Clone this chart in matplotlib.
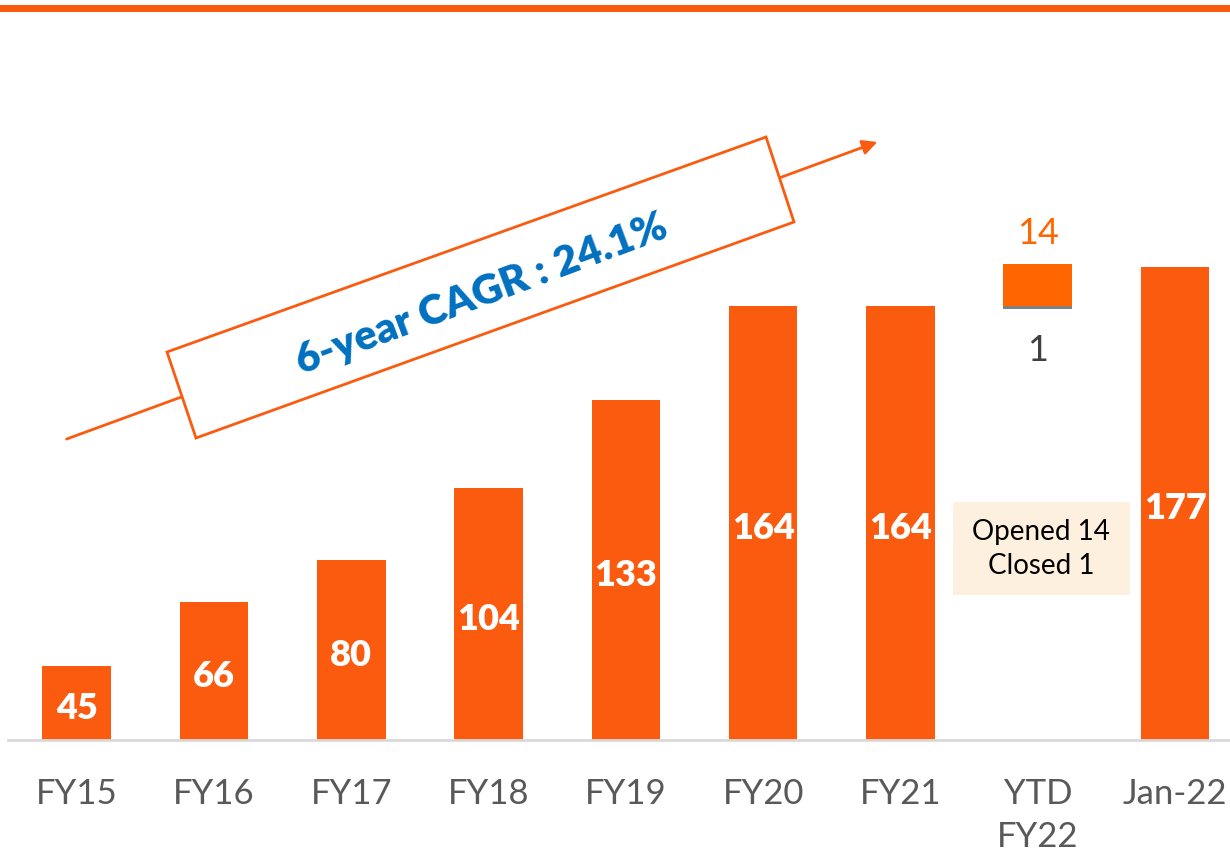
import matplotlib.pyplot as plt
from matplotlib.patches import Polygon, Rectangle

# data
categories = ['FY15', 'FY16', 'FY17', 'FY18', 'FY19', 'FY20', 'FY21', 'YTD\nFY22', 'Jan-22']
store_counts = [45, 66, 80, 104, 133, 164, 164, None, 177]
ytd_base = 164
ytd_opened = 14
ytd_closed = 1
cagr_text = '6-year CAGR : 24.1%'
note_text = 'Opened 14\nClosed 1'

ORANGE = '#FA5B0F'
ORANGE2 = '#FF6600'
BLUE = '#0070C0'
plt.rcParams['font.family'] = ['Lato', 'DejaVu Sans']

fig = plt.figure(figsize=(12.3, 8.58), dpi=100)
y_min, y_max = 20.5, 251
ax = fig.add_axes([8 / 1230, 1 - 740 / 858, 1 - 8 / 1230, 697 / 858])

# regular bars
xs = [i for i, v in enumerate(store_counts) if v is not None]
vals = [v for v in store_counts if v is not None]
ax.bar(xs, vals, width=0.5, color=ORANGE, zorder=2)
for x, v in zip(xs, vals):
    ax.text(x, (y_min + v) / 2 - 1.8, str(v), ha='center', va='center',
            color='white', fontsize=26, fontweight='heavy', zorder=3)

# YTD waterfall piece
ytd_x = categories.index('YTD\nFY22')
ax.bar(ytd_x, ytd_opened, bottom=ytd_base, width=0.5, color=ORANGE2, zorder=2)
ax.bar(ytd_x, ytd_closed, bottom=ytd_base - ytd_closed, width=0.5, color='#808080', zorder=2)
ax.text(ytd_x, ytd_base + ytd_opened + 10, str(ytd_opened), ha='center', va='center',
        color=ORANGE2, fontsize=26)
ax.text(ytd_x, ytd_base - 14.6, str(ytd_closed), ha='center', va='center',
        color='#404040', fontsize=26)

ax.set_xlim(-0.5, 8.4)
ax.set_ylim(y_min, y_max)
ax.set_xticks(range(len(categories)))
ax.set_xticklabels(categories, fontsize=25, color='#595959', linespacing=1.45)
ax.tick_params(axis='x', length=0, pad=27)
ax.set_yticks([])
for s in ['top', 'right', 'left']:
    ax.spines[s].set_visible(False)
ax.spines['bottom'].set_color('#D9D9D9')
ax.spines['bottom'].set_linewidth(2)

# overlay in pixel coordinates for decorations
ov = fig.add_axes([0, 0, 1, 1], facecolor='none')
ov.set_xlim(0, 1230)
ov.set_ylim(858, 0)
ov.axis('off')

ov.add_patch(Rectangle((0, 5), 1230, 7, color=ORANGE, lw=0))

ov.annotate('', xy=(880, 141), xytext=(64, 440),
            arrowprops=dict(arrowstyle='-|>', color=ORANGE, lw=2, mutation_scale=22))
ov.add_patch(Polygon([(167, 352), (766, 137), (794, 222), (196, 438)], closed=True,
                     facecolor='white', edgecolor=ORANGE, lw=2, zorder=3))
ov.text(482, 294, cagr_text, rotation=20.5, rotation_mode='anchor', ha='center', va='center',
        color=BLUE, fontsize=30, fontweight='heavy', zorder=4)

ov.add_patch(Rectangle((953, 502), 177, 93, facecolor='#FDF0DE', lw=0, zorder=3))
ov.text(1041, 549, note_text, ha='center', va='center', fontsize=20, color='black',
        linespacing=1.35, zorder=4)

fig.savefig('out.png', dpi=100)
